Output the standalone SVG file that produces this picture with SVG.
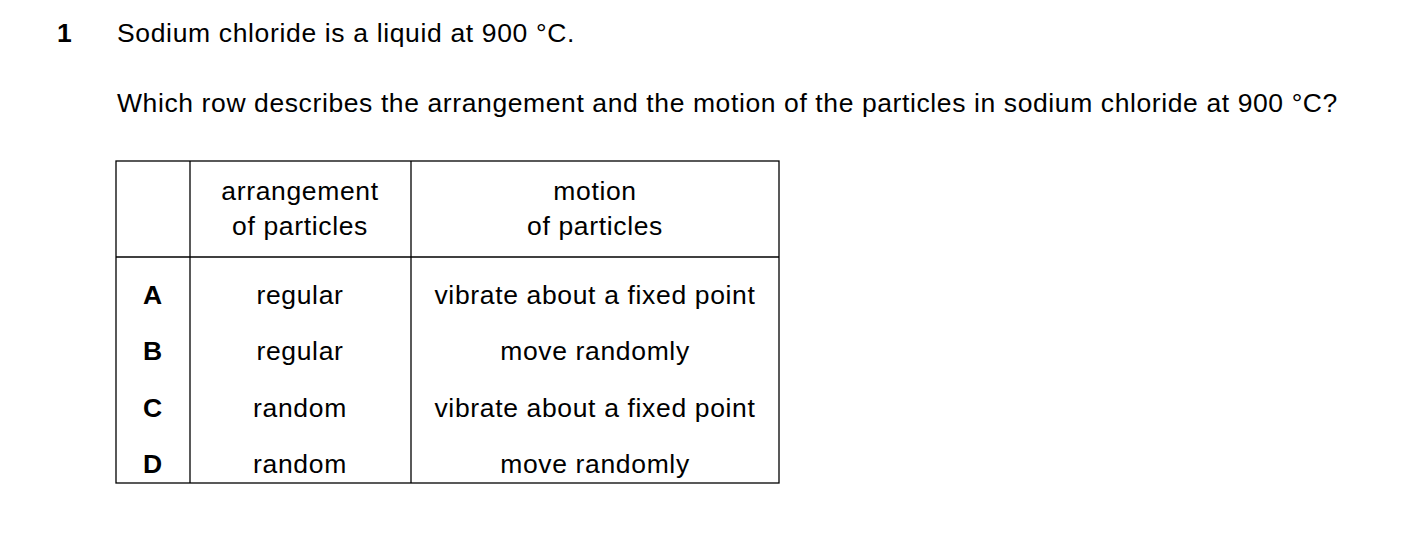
<svg xmlns="http://www.w3.org/2000/svg" width="1403" height="536" viewBox="0 0 1403 536">
<style>
text{font-family:"Liberation Sans",Arial,sans-serif;font-size:26.5px;letter-spacing:0.65px;fill:#000}
.b{font-weight:bold}
.c{text-anchor:middle}
.g line,.g rect{stroke:#000;stroke-width:1.3;fill:none}
</style>
<rect width="1403" height="536" fill="#fff"/>
<text x="57" y="42" class="b">1</text>
<text x="117" y="42">Sodium chloride is a liquid at 900 °C.</text>
<text x="117" y="112" textLength="1221">Which row describes the arrangement and the motion of the particles in sodium chloride at 900 °C?</text>
<g id="table" class="g">
<rect x="116" y="161" width="663" height="322"/>
<line x1="190" y1="161" x2="190" y2="483"/>
<line x1="411" y1="161" x2="411" y2="483"/>
<line x1="116" y1="257" x2="779" y2="257"/>
<text x="300" y="200" class="c">arrangement</text>
<text x="300" y="235" class="c">of particles</text>
<text x="595" y="200" class="c">motion</text>
<text x="595" y="235" class="c">of particles</text>
<text x="153" y="304" class="c b">A</text>
<text x="300" y="304" class="c">regular</text>
<text x="595" y="304" class="c">vibrate about a fixed point</text>
<text x="153" y="360" class="c b">B</text>
<text x="300" y="360" class="c">regular</text>
<text x="595" y="360" class="c">move randomly</text>
<text x="153" y="417" class="c b">C</text>
<text x="300" y="417" class="c">random</text>
<text x="595" y="417" class="c">vibrate about a fixed point</text>
<text x="153" y="473" class="c b">D</text>
<text x="300" y="473" class="c">random</text>
<text x="595" y="473" class="c">move randomly</text>
</g>
</svg>
